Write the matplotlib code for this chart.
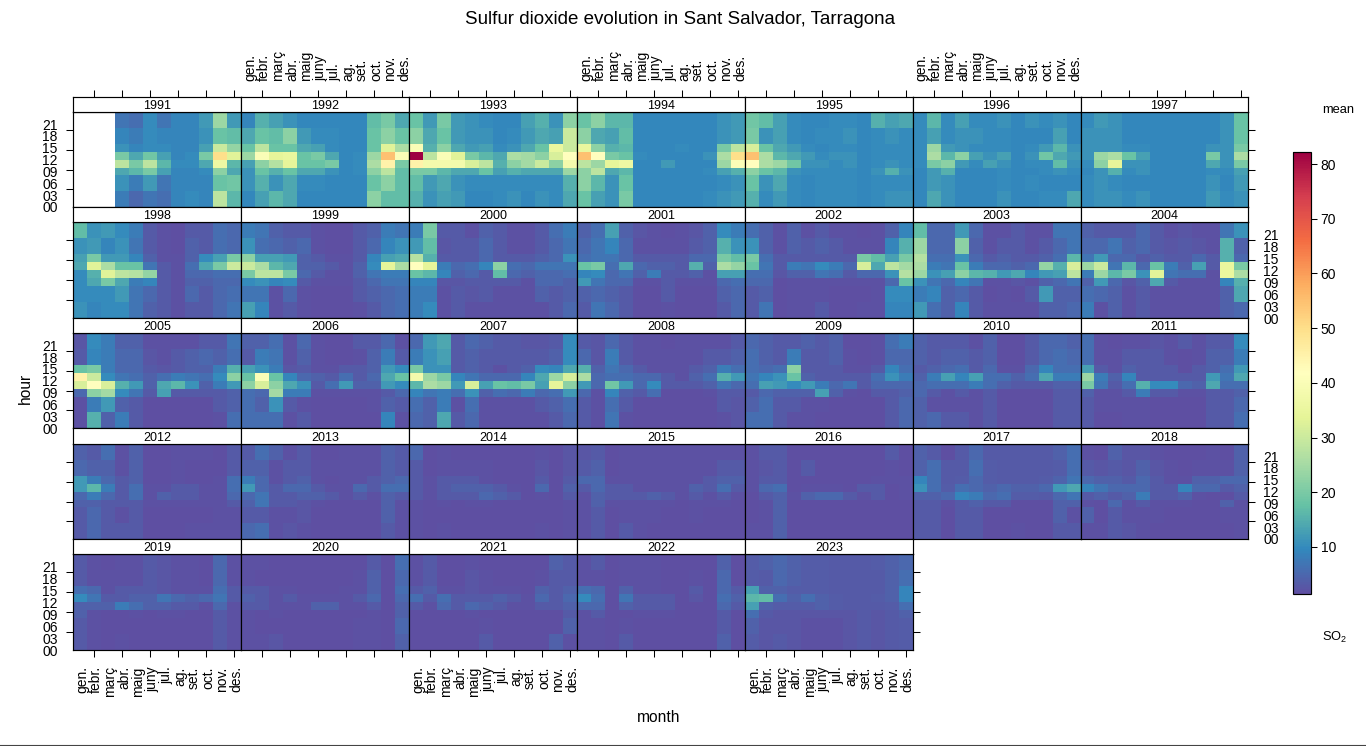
import numpy as np
import matplotlib
matplotlib.use("Agg")
import matplotlib.pyplot as plt
from matplotlib.colors import LinearSegmentedColormap, Normalize

plt.rcParams['font.family'] = ['Liberation Sans', 'DejaVu Sans']
plt.rcParams['mathtext.default'] = 'regular'

months = ['gen.', 'febr.', 'març', 'abr.', 'maig', 'juny', 'jul.', 'ag.', 'set.', 'oct.', 'nov.', 'des.']
hour_labels = ['00', '03', '06', '09', '12', '15', '18', '21']
hour_edges = [-0.5, 3.5, 7.5, 9.5, 11.5, 13.5, 15.5, 19.5, 23.5]
n = np.nan

# each year: rows from the top band (20-23 h) down to the bottom band (00-03 h), columns gen. to des.
y1991 = [[n,n,n,7,6,10,7,9,9,12,24,12],[n,n,n,9,8,10,9,9,9,11,18,17],[n,n,n,11,9,10,10,9,9,13,30,23],[n,n,n,20,14,19,13,9,10,20,50,33],
         [n,n,n,28,20,28,16,10,10,14,36,16],[n,n,n,14,16,20,13,9,9,10,22,14],[n,n,n,11,8,12,7,9,9,9,18,19],[n,n,n,8,5,7,6,9,10,9,28,16]]
y1992 = [[9,15,13,11,9.5,9.5,9.5,9.5,9.5,17,20,14],[14,18,17,22,12,10,10,9.5,9.5,18,22,18],[18,28,18,18,14,13,10,9.5,9.5,18,33,26],[24,40,34,35,18,20,14,9.5,10,24,55,40],
         [13,22,27,34,18,18,20,9.5,10,26,45,20],[11,18,15,18,14,14,11,9.5,10,22,28,17],[11,15,11,14,10,10,9.5,9.5,9.5,18,22,17],[9.5,13,16,14,9.5,9.5,9.5,9.5,9.5,22,17,17]]
y1993 = [[18,12,20,12,11,10,9.5,9.5,13,15,11,22],[22,14,18,12,11,11,9.5,10,12,14,13,30],[40,15,22,14,12,13,10,11,14,18,35,30],[82,28,40,33,20,16,14,26,25,22,32,42],
         [45,38,38,38,32,28,15,22,25,30,22,38],[20,20,16,14,14,18,13,15,14,14,14,24],[17,12,14,11,10,10,10,10,10,10,10,15],[15,11,13,12,9.5,9.5,10,11,9.5,11,10,14]]
y1994 = [[18,22,16,16,9.5,9.5,9.5,9.5,9.5,9.5,11,12],[22,14,13,17,9.5,9.5,9.5,9.5,9.5,9.5,11,12],[35,22,15,16,9.5,9.5,9.5,10,9.5,9.5,20,28],[55,42,20,18,10,9.5,9.5,9.5,9.5,11,26,50],
         [28,24,34,36,9.5,9.5,12,9.5,9.5,9.5,24,40],[22,28,14,16,9.5,9.5,9.5,9.5,9.5,10,13,15],[22,16,11,18,9.5,9.5,9.5,9.5,9.5,9.5,10,11],[18,13,11,20,9.5,9.5,9.5,9.5,9.5,10,11,12]]
y1995 = [[19,17,13,10,9.5,9.5,10,10,9.5,15,13,14],[20,11,13,10,9.5,10,10,11,9.5,10,11,10],[32,18,14,12,10,9.5,10,10,9.5,10,10,10],[55,26,16,14,12,10,11,11,9.5,10,10,10],
         [42,26,24,19,11,11,10,11,9.5,10,11,10],[22,18,16,11,10,10,10,10,9.5,11,15,11],[18,11,14,10,9.5,10,10,10,9.5,10,10,10],[15,10,12,10,9.5,10,10,10,9.5,10,11,11]]
y1996 = [[10,16,10,13,10,10,11,9.5,11,10,11,9.5],[10,13,10,11,11,10,10,9.5,9.5,9.5,13,9.5],[10,24,12,11,10,10,10,9.5,10,12,16,11],[10,26,16,22,13,11,13,9.5,11,19,14,12],
         [10,20,22,12,10,13,11,9.5,10,10,17,11],[9.5,12,15,9.5,9.5,9.5,10,9.5,9.5,10,11,10],[9.5,12,11,9.5,9.5,9.5,10,9.5,10,9.5,9.5,9.5],[9.5,14,11,9.5,9.5,9.5,11,9.5,9.5,10,10,14]]
y1997 = [[10,12,11,9.5,9.5,9.5,9.5,9.5,9.5,9.5,11,18],[11,11,11,9.5,9.5,9.5,9.5,9.5,9.5,9.5,11,18],[11,11,11,10,10,9.5,9.5,9.5,9.5,11,11,20],[11,24,26,18,13,9.5,9.5,9.5,9.5,20,11,26],
         [10,22,34,11,11,9.5,9.5,9.5,9.5,14,11,20],[9.5,11,15,10,11,9.5,9.5,9.5,9.5,10,10,13],[10,11,10,9.5,9.5,9.5,9.5,9.5,9.5,11,9.5,12],[10,11,11,10,11,9.5,9.5,9.5,9.5,12,10,11]]
y1998 = [[17,11,12,10,8,3,2,1.5,3,3,6,5],[11,12,9,11,7,3,2,1.5,4,3,6,5],[13,20,12,12,9,4,2,2,4,10,13,20],[14,33,26,18,18,7,3,2,6,14,20,30],
         [10,15,33,28,27,23,3,2,5,5,6,6],[10,14,20,14,8,9,3,2,4,4,5,5],[10,10,10,12,7,5,3,2,5,3,5,6],[11,9,10,10,7,4,3,2,3,3,5,7]]
y1999 = [[8,7,4,3,3,2,1.5,1.5,3,4,8,7],[11,6,5,4,5,2,1.5,1.5,3,5,9,11],[22,13,13,12,4,3,2,2,3,9,13,14],[30,26,16,14,4,4,3,2,4,10,34,26],
         [20,28,28,20,5,3,2,2,4,7,8,8],[10,11,9,10,3,2,2,2,3,5,7,7],[7,7,2,5,2,1.5,1.5,1.5,3,4,5,6],[13,9,2,3,2,1.5,1.5,1.5,2,3,5,6]]
y2000 = [[8,20,3,3,2,4,3,2,2,3,6,8],[12,17,2.5,3,3,5,3,2,2,3,5,7],[27,15,3,3,3,5,3,3,3,4,5,11],[42,34,8,5,6,9,22,6,5,7,7,7],
         [18,16,9,4,5,3,17,5,4,5,5,6],[9,9,2.5,2.5,3,3,3,3,2,5,5,4],[8,8,2,3,2.5,3,2,2,1.8,4,3,4],[8,10,2,3,2,2,2,2,1.8,2,3,5]]
y2001 = [[4,6,13,4,2.5,2,1.5,2,2.5,4,10,8],[5,7,9,5,2,2,2,2,3,4,15,11],[6,7,7,5,3,3,3,3,5,5,20,17],[18,20,6,14,5,4,4,3,15,4,26,23],
         [9,10,5,7,4,8,3,3,4,2,13,13],[12,7,5,5,1.8,1.8,3,1.8,1.8,1.8,5,6],[4,5,4,3,1.5,1.5,3,1.5,1.5,1.5,4,5],[3,7,5,3,1.5,1.5,2,1.5,1.5,1.5,3,5]]
y2002 = [[6,4,2,4,2,3,2,2,1.5,2,4,9],[11,4,2,4,3,4,3,2,2,2,9,15],[20,6,3,3,3,3,3,3,20,17,13,20],[18,7,3,8,7,10,8,5,32,14,28,25],
         [6,6,2.5,4,4,7,6,3,5,5,11,27],[5,5,1.5,2,2,2,1.8,1.8,1.8,2,5,18],[3,4,1.5,2,1.8,1.8,1.5,1.5,1.5,2,10,10],[3,7,1.5,2,1.8,3,1.5,1.5,2,2,9,9]]
y2003 = [[17,5,5,12,5,2,2,3,2,2,7,7],[24,5,5,22,4,2,3,3,2,3,5,7],[27,6,6,11,5,3,4,3,3,4,6,16],[26,8,7,18,8,5,5,4,5,23,15,32],
         [24,11,13,22,16,15,12,14,9,12,13,28],[11,7,5,9,7,1.8,2,2.5,2,4,5,7],[8,9,4,5,3,1.5,1.8,1.5,3,12,4,4],[12,6,4,9,3,2,2,2,2,4,4,5]]
y2004 = [[4,3,3,3,5,3,2,2.5,2,2,7,11],[5,5,7,4,5,3,2.5,3,2.5,1.8,15,4],[7,12,5,5,3,4,3,3,5,3,15,5],[24,30,7,16,5,18,8,4,13,3,35,20],
         [8,24,16,20,11,33,7,6,6,2,35,26],[4,12,5,2.5,4,14,3,2,2,2,9,15],[6,5,4,2,3,2,1.8,2,2,2,4,14],[8,2,4,2,3,2,2,2,2,2,4,5]]
y2005 = [[2.5,10,8,4,4,2,1.8,1.8,2,3,3,7],[3,9,8,5,5,2.5,2,3,4,5,4,6],[18,20,8,5,5,3,2.5,3,4,4,8,15],[45,30,10,7,6,4,6,8,7,6,10,22],
         [32,42,32,15,12,4,14,16,11,4,8,12],[5,22,25,10,7,3,13,3,3,3,3,4],[2,8,12,4,3,1.5,1.5,1.5,1.5,1.5,3,4],[2,15,4,8,3,1.5,1.5,1.5,1.5,1.5,2,6]]
y2006 = [[4,4,6,2,5,1.8,1.5,1.5,3,3,5,2],[3,8,7,2,4,2,1.5,1.5,2,4,8,3],[13,11,8,2.5,3,2,2,3,3,4,12,10],[18,40,18,9,5,4,3,6,3,5,14,18],
         [22,32,22,14,11,3,6,12,4,4,12,10],[6,5,25,8,8,2,2,2,2,2,3,5],[6,4,11,3,2,1.5,1.5,1.5,1.5,2,4,3],[6,6,6,2,3,1.5,1.5,1.5,1.5,1.5,9,2]]
y2007 = [[5,12,14,3,5,4,3,3,2.5,2.5,3,10],[8,11,13,3,4,3,3,3,3,3,4,10],[20,11,11,3,4,3,2,3,4,10,9,14],[38,24,20,9,7,5,5,5,9,14,24,32],
         [16,26,24,12,32,13,18,17,20,13,34,22],[9,7,8,6,11,4,6,5,8,5,6,12],[6,4,8,2,6,1.8,2,2,1.8,3,4,6],[5,4,14,3,5,1.8,1.8,1.8,1.8,2,3,5]]
y2008 = [[3,2.5,5,3,2,2,1.5,2,2,2,2,3],[5,2.5,8,3,2,2,2,2,2,3,3,4],[15,4,7,5,3,2,2,2,3,4,8,6],[26,5,6,6,5,5,3,2,4,6,15,12],
         [12,5,19,12,5,10,3,3,3,4,7,5],[5,2,9,4,3,6,1.5,1.5,1.5,2,3,3],[3,2,6,3,1.5,1.5,1.5,1.5,1.5,1.5,3,2.5],[3,2,7,2,1.5,1.5,1.5,1.5,1.5,1.5,2,2.5]]
y2009 = [[5,4,3,3,4,3,4,1.5,1.5,2,6,8],[6,4,3,8,3,3,4,2,1.5,2,5,5],[6,5,6,22,3,3,3,2,2,3,9,6],[7,9,11,18,4,3,3,3,3,6,11,8],
         [6,13,12,10,12,8,5,7,3,5,5,5],[3,5,4,4,4,13,4,2,1.5,3,3,4],[4,6,3,3,2,2,1.5,1.5,1.5,1.5,3,5],[6,6,3,2,2,1.5,1.5,1.5,1.5,1.5,3,5]]
y2010 = [[4,3,3,3,2,4,1.5,1.5,3,5,5,4],[4,3,4,4,3,4,1.5,1.5,3,5,6,5],[3,4,5,6,3,5,2,2,5,9,6,6],[4,8,13,9,13,6,6,4,6,14,8,8],
         [5,6,6,6,8,6,4,3,3,3,4,4],[5,3,2,3,2,3,1.5,1.5,1.5,1.5,3,3],[4,2,2,2,2,3,1.5,1.5,1.5,1.5,3,3],[4,5,3,3,2,3,1.5,1.5,1.5,1.5,3,3]]
y2011 = [[6,2,1.5,2,2,2.5,2,3,2,3,3,10],[6,2,2,3,3,3,2,1.5,2,4,4,8],[13,3,2,4,3,3,3,1.5,3,4,6,12],[24,8,4,9,3,3,3,3,3,12,7,14],
         [20,7,3,6,15,10,10,5,4,14,6,6],[4,2,2,3,8,3,3,2,2,3,3,4],[3,2,2,2,2,1.5,1.5,1.5,1.5,3,3,5],[3,1.5,1.5,2,2,1.5,1.5,1.5,1.5,3,3,6]]
y2012 = [[4,3,6,2,4,1.5,1.5,2,2,2,1.5,3],[5,4,4,2,4,1.5,1.5,2,1.5,1.5,1.5,3],[12,8,5,3,4,1.5,1.5,2,1.5,1.5,2,6],[12,16,8,3,6,2,2,3,3,2,2,6],
         [5,8,5,3,6,2,4,3,3,2,2,5],[4,4,3,3,3,2,2,2,2,2,2,3],[3,5,3,2,3,1.5,1.5,1.5,1.5,1.5,2,2],[3,5,3,3,3,1.5,1.5,1.5,2,2,2,2]]
y2013 = [[3,6,4,2,3,1.5,1.5,2,2,2,4,3],[4,4,2,3,3,2,2,2,2,2,4,3],[8,5,2,3,4,2,1.5,2,2,3,4,5],[12,5,3,5,5,3,2,2,5,3,6,6],
         [5,7,3,3,4,4,3,2,3,2,4,3],[4,7,3,3,2.5,2,1.5,1.5,1.5,1.5,4,2],[3,3,2,2,2.5,1.5,1.5,1.5,1.5,1.5,4,2],[5,6,2,2.5,2,1.5,1.5,1.5,1.5,1.5,3,2]]
y2014 = [[5,1.5,2,1.5,1.5,1.5,1.5,1.5,1.5,2,1.5,2.5],[3,1.5,2,2,2,2,1.5,1.5,1.5,2.5,1.5,2.5],[3,2,3,3,3,2,1.5,1.5,1.5,3,1.5,3],[3,2,3,4,4,4,3,2,1.5,5,1.5,4],
         [3,2,3,3,3,5,4,3,1.5,2,1.5,3],[2,1.5,2,1.5,2,2,1.5,1.5,1.5,1.5,1.5,2],[2,1.5,1.5,1.5,1.5,1.5,1.5,1.5,1.5,1.5,1.5,2],[2,1.5,2,1.5,1.5,1.5,1.5,1.5,1.5,2,1.5,2]]
y2015 = [[2.5,3,1.5,2,2,2,2,2,2,2,2,2],[3,4,1.5,2,2,2,2,2,2,2,3,3],[5,5,2,2,2,2,2,2,2,3,4,4],[3,5,3,3,2,2,2,2,4,3,6,3],
         [2,4,3,3,3,4,3,2,3,2,3,2],[2,4,2,2,2,2,2,1.5,2,2,2,1.5],[2,3,1.5,2,2,2,1.5,1.5,2,1.5,1.5,1.5],[2,3,1.5,3,2,1.5,1.5,1.5,1.5,1.5,1.5,1.5]]
y2016 = [[2,3,3,1.5,1.5,1.5,1.5,1.5,1.5,1.5,3,1.5],[2,2.5,3,1.5,3,1.5,1.5,1.5,1.5,1.5,2,1.5],[2,3,3,1.5,1.5,1.5,1.5,1.5,1.5,2,2,2],[2,5,6,1.5,2,2,2,1.5,3,3,1.5,2],
         [1.5,3,4,2,4,5,5,3,2,3,1.5,2],[1.5,2,4,1.5,1.5,1.5,1.5,1.5,1.5,1.5,1.5,1.5],[1.5,2,4,1.5,1.5,1.5,1.5,1.5,1.5,1.5,1.5,1.5],[2,2,4,1.5,1.5,1.5,1.5,1.5,1.5,1.5,1.5,1.5]]
y2017 = [[4,3,1.5,3,5,3,3,3,3,3,4,6],[4,6,3,3,6,3.5,3,3,3,3,3.5,6],[9,6,3,3.5,5,3.5,3,3,3,3.5,4.5,7],[11,6,3.5,6,5,4,5,4,4,5,12,14],
         [4,4,5,9,8,5,6,3.5,3.5,3,5,7],[3,3,2,3,4,3,3,1.5,1.5,1.5,4,4],[3,3,1.5,3,3,1.5,1.5,1.5,1.5,1.5,4,2],[3,3,1.5,3,3,1.5,1.5,2,1.5,1.5,3,3]]
y2018 = [[2,1.5,4,2.5,2.5,2,1.5,1.5,1.5,2,1.5,4],[3,2.5,3,2.5,4,2.5,2,1.5,2,2,2,4],[5,4,4,3,5,3,2,2,4,4,5,5],[9,7,5,5,5,3,3,9,5,5,3,4],
         [3,4,3,4,8,3,3,4,2,1.5,1.5,3],[2,1.5,5,2,3,2,2,2,1.5,1.5,4,2],[4,1.5,3,2,2,2,1.5,1.5,1.5,1.5,2,2],[2,2,3,2.5,2,1.5,1.5,1.5,1.5,1.5,1.5,2]]
y2019 = [[3,2,1.5,2,2,3,2.5,2,2,1.5,5,2],[3,2,2,2,2,3,2.5,2,2,1.5,5,2],[6,5,2,3,3,3,2.5,2,2,2,6,3],[10,7,3,3,4,4,7,5,4,5,7,3],
         [4,4,4,8,6,4,4,3,3,2,5,2],[4,2,1.5,1.5,2,1.5,2,2,1.5,1.5,3,2],[3,2,1.5,1.5,1.5,1.5,1.5,1.5,1.5,1.5,3,2],[3,2,1.5,2,1.5,1.5,1.5,1.5,1.5,1.5,3,2]]
y2020 = [[2,2,1.5,1.5,1.5,1.5,1.5,1.5,1.5,3,1.5,6],[2,1.5,1.5,1.5,1.5,1.5,1.5,1.5,2,4,1.5,5],[3,3,2,2,1.5,1.5,1.5,2,2,4,1.5,6],[4,3,2,3,2,2,2,2,3,5,1.5,5],
         [3,3,2,2,2,4,4,2,2,3,1.5,4],[2,1.5,2,1.5,1.5,1.5,1.5,1.5,1.5,2,1.5,4],[2,1.5,1.5,1.5,1.5,1.5,1.5,1.5,2,2,1.5,5],[2,2,2.5,1.5,1.5,1.5,1.5,1.5,2,2,1.5,4]]
y2021 = [[2,3,1.5,1.5,2,1.5,1.5,1.5,1.5,1.5,4,3],[2,3,1.5,1.5,2.5,2,1.5,1.5,1.5,2,3,3],[3,4,2,2,2.5,2,2,2,1.5,4,3,4],[6,3,6,3,3,3,4,3,2,5,3,5],
         [3,2,5,3,5,4,3,2,2,3,3,4],[1.5,1.5,1.5,1.5,2,1.5,1.5,1.5,1.5,1.5,1.5,3],[1.5,1.5,1.5,1.5,1.5,2,1.5,1.5,1.5,1.5,1.5,4],[1.5,1.5,1.5,1.5,1.5,3,1.5,1.5,1.5,1.5,4,2]]
y2022 = [[2,3,1.5,2,2,2,1.5,1.5,1.5,1.5,4,1.5],[2,2,1.5,2,2,2,1.5,1.5,2,1.5,5,1.5],[6,5,1.5,4,2,2,1.5,1.5,3,1.5,5,3],[10,6,1.5,7,3,3,3,1.5,2.5,1.5,6,4],
         [5,5,1.5,4,3,3,3,1.5,1.5,1.5,5,3],[2,3,1.5,1.5,2,2,2,1.5,1.5,1.5,3,1.5],[2,2,1.5,2,1.5,1.5,1.5,1.5,1.5,1.5,3,1.5],[2,2,1.5,3,1.5,1.5,1.5,1.5,1.5,1.5,4,1.5]]
y2023 = [[3.5,4,5,4,3.5,3.5,3,3,3,3.5,4,5],[3.5,3,5,4,3.5,3.5,3,3,3,3,4,6],[13,4,4,3.5,3.5,3.5,3,3,3,3,4,9],[16,17,6,4,6,4,3.5,3,3,3.5,4,9],
         [13,4,3.5,3.5,3.5,4,3.5,3,3,3,3.5,6],[6,3,2.5,2.5,2.5,2.5,2.5,2.5,3,2.5,3,4],[4,2.5,2.5,2.5,2,2,2,2.5,3,2.5,3,3.5],[3.5,2.5,3,2.5,2,2,2,2.5,3,2.5,3,3.5]]

years = list(range(1991, 2024))
values = [y1991, y1992, y1993, y1994, y1995, y1996, y1997, y1998, y1999, y2000, y2001,
          y2002, y2003, y2004, y2005, y2006, y2007, y2008, y2009, y2010, y2011, y2012,
          y2013, y2014, y2015, y2016, y2017, y2018, y2019, y2020, y2021, y2022, y2023]

W, H = 1366, 746
spectral = ['#5E4FA2', '#3288BD', '#66C2A5', '#ABDDA4', '#E6F598', '#FFFFBF',
            '#FEE08B', '#FDAE61', '#F46D43', '#D53E4F', '#9E0142']
cmap = LinearSegmentedColormap.from_list('so2', spectral, N=256)
cmap.set_bad('white')
norm = Normalize(1.4, 82.2)

fig = plt.figure(figsize=(W / 100, H / 100), dpi=100)


def px_axes(x0, y0, x1, y1):
    # rectangle given in picture pixels, y going down
    return fig.add_axes([x0 / W, 1 - y1 / H, (x1 - x0) / W, (y1 - y0) / H])


col_x = [73, 241, 409, 577, 745, 912.5, 1080.5, 1248]
row_y = [(96.5, 112.3, 207), (207, 222.3, 318.3), (318.3, 333.3, 428.3),
         (428.3, 444.3, 539), (539, 554.3, 650.3)]
fs = 9
fs_tick = 10
tick_len = 5
tick_w = 0.75
month_pos = np.arange(1, 13)
label_pos = month_pos + 0.14
month_edges = np.arange(0.5, 13)

for i, (year, vals) in enumerate(zip(years, values)):
    row, col = divmod(i, 7)
    y_strip, y_top, y_bot = row_y[row]
    x0, x1 = col_x[col], col_x[col + 1]

    ax = px_axes(x0, y_top, x1, y_bot)
    z = np.array(vals, dtype=float)[::-1]
    mesh = ax.pcolormesh(month_edges, hour_edges, z, cmap=cmap, norm=norm)
    ax.set_xlim(0.5, 12.5)
    ax.set_ylim(-0.5, 23.5)

    strip = px_axes(x0, y_strip, x1, y_top)
    strip.set_xlim(0.5, 12.5)
    strip.set_yticks([])
    strip.text(0.5, 0.42, str(year), transform=strip.transAxes, ha='center', va='center', fontsize=fs)

    ax.set_xticks([])
    strip.set_xticks([])

    # month ticks, top row on the strip and last row on the panel
    if row == 0:
        strip.xaxis.tick_top()
        strip.set_xticks(month_pos[1::2])
        strip.set_xticklabels([])
        strip.tick_params(axis='x', which='major', length=tick_len, width=tick_w)
        if col % 2 == 1:
            strip.set_xticks(label_pos, labels=months, minor=True, rotation=90, fontsize=fs_tick)
            strip.tick_params(axis='x', which='minor', length=0, pad=11.5, top=True, labeltop=True,
                              bottom=False, labelbottom=False)
    if row == 4:
        ax.set_xticks(month_pos[1::2])
        ax.set_xticklabels([])
        ax.tick_params(axis='x', which='major', length=tick_len, width=tick_w)
        if col % 2 == 0:
            ax.set_xticks(label_pos, labels=months, minor=True, rotation=90, fontsize=fs_tick)
            ax.tick_params(axis='x', which='minor', length=0, pad=11.5)

    # hour ticks on the outer sides
    ax.set_yticks([])
    last_col = 4 if row == 4 else 6
    if col == 0 or col == last_col:
        ax.set_yticks([4, 9, 14, 19])
        ax.set_yticklabels([])
        ax.tick_params(axis='y', which='major', length=tick_len, width=tick_w,
                       left=col == 0, right=col == last_col)
        show_left = col == 0 and row % 2 == 0
        show_right = col == last_col and row % 2 == 1
        if show_left or show_right:
            ax.set_yticks(np.arange(0, 24, 3) - 0.5, labels=hour_labels, minor=True, fontsize=fs_tick)
            ax.tick_params(axis='y', which='minor', length=0, pad=11,
                           left=False, right=False, labelleft=show_left, labelright=show_right)

    for a in (ax, strip):
        for s in a.spines.values():
            s.set_linewidth(0.85)

# colour key
cax = px_axes(1293, 152, 1311, 594)
cb = fig.colorbar(mesh, cax=cax)
cb.set_ticks(range(10, 90, 10))
cb.ax.tick_params(length=4, width=tick_w, labelsize=fs_tick, pad=3)
cb.outline.set_linewidth(0.85)

fig.text(680 / W, 1 - 20 / H, 'Sulfur dioxide evolution in Sant Salvador, Tarragona',
         ha='center', va='center', fontsize=13.5)
fig.text(659 / W, 1 - 717 / H, 'month', ha='center', va='center', fontsize=11.2)
fig.text(25 / W, 1 - 388 / H, 'hour', ha='center', va='center', rotation=90, fontsize=11.2)
fig.text(1322 / W, 1 - 110 / H, 'mean', ha='left', va='center', fontsize=9.3)
fig.text(1322 / W, 1 - 637 / H, 'SO$_2$', ha='left', va='center', fontsize=9.3)

# thin rule along the bottom edge of the picture
fig.add_artist(plt.Line2D([0, 1], [1.5 / H, 1.5 / H], color='#444444', lw=0.8))

fig.savefig('out.png', dpi=100)
